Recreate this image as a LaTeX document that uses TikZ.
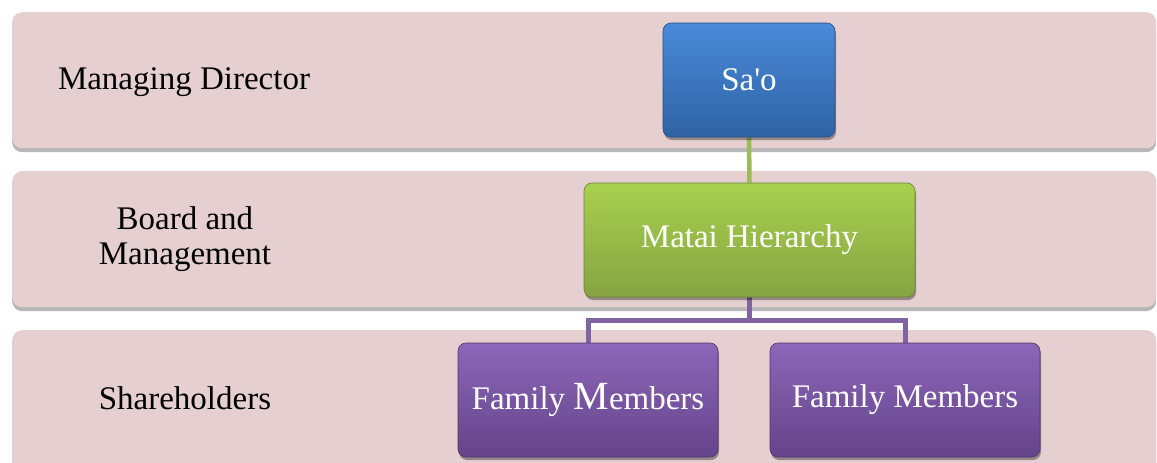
\documentclass[tikz,border=0pt]{standalone}
\usepackage{fontspec}
\setmainfont{Liberation Serif}
\usetikzlibrary{shadows}
\definecolor{bandfill}{RGB}{230,207,208}
\definecolor{bluetop}{RGB}{74,138,216}
\definecolor{bluebot}{RGB}{47,99,164}
\definecolor{greentop}{RGB}{168,208,78}
\definecolor{greenbot}{RGB}{134,164,66}
\definecolor{purptop}{RGB}{140,102,184}
\definecolor{purpbot}{RGB}{100,68,138}
\definecolor{greenline}{RGB}{155,187,89}
\definecolor{purpline}{RGB}{128,100,162}
\pgfdeclarelayer{bandlayer}
\pgfdeclarelayer{conn}
\pgfsetlayers{bandlayer,conn,main}
\tikzset{
  bandbox/.style={fill=bandfill, rounded corners=10pt, anchor=north west,
    minimum width=1144pt, minimum height=136pt, inner sep=0pt,
    drop shadow={shadow xshift=0pt, shadow yshift=-4pt, opacity=0.4, fill=black!70}},
  bandlabel/.style={align=center, text=black, font=\fontsize{33}{35}\selectfont},
  orgbox/.style={rounded corners=8pt, minimum height=114pt, inner sep=0pt,
    text=white, font=\fontsize{33}{35}\selectfont,
    drop shadow={shadow xshift=1pt, shadow yshift=-3pt, opacity=0.35, fill=black}},
  bluebox/.style={orgbox, top color=bluetop, bottom color=bluebot, draw=bluebot!80!black, line width=0.6pt},
  greenbox/.style={orgbox, top color=greentop, bottom color=greenbot, draw=greenbot!80!black, line width=0.6pt},
  purpbox/.style={orgbox, top color=purptop, bottom color=purpbot, draw=purpbot!80!black, line width=0.6pt},
  greenconn/.style={draw=greenline, line width=4.5pt},
  purpconn/.style={draw=purpline, line width=5pt},
}
\begin{document}
\begin{tikzpicture}[x=1pt,y=-1pt]
\useasboundingbox (0,0) rectangle (1157,463);
\begin{pgfonlayer}{bandlayer}
\fill[white] (0,0) rectangle (1157,463);
% bands
\node[bandbox] (b1) at (12,12) {};
\node[bandbox] (b2) at (12,171) {};
\node[bandbox, minimum height=150pt] (b3) at (12,330) {};
\end{pgfonlayer}
% band labels
\node[bandlabel] (l1) at (184,82) {Managing Director};
\node[bandlabel] (l2) at (185,239) {Board and\\Management};
\node[bandlabel] (l3) at (185,398) {Shareholders};
% org boxes
\node[bluebox, minimum width=172pt] (sao) at (749,80) {Sa\textquotesingle o};
\node[greenbox, minimum width=331pt] (matai) at (749.5,240) {Matai Hierarchy};
\node[purpbox, minimum width=260pt] (fm1) at (588,400) {Family {\fontsize{40}{40}\selectfont M}embers};
\node[purpbox, minimum width=270pt] (fm2) at (905,400) {Family Members};
\coordinate (j) at (749.5,320);
\begin{pgfonlayer}{conn}
\draw[greenconn] (sao.south) -- (matai.north);
\draw[purpconn] (matai.south) -- (j) -| (fm1.north);
\draw[purpconn] (j) -| (fm2.north);
\end{pgfonlayer}
\end{tikzpicture}
\end{document}
